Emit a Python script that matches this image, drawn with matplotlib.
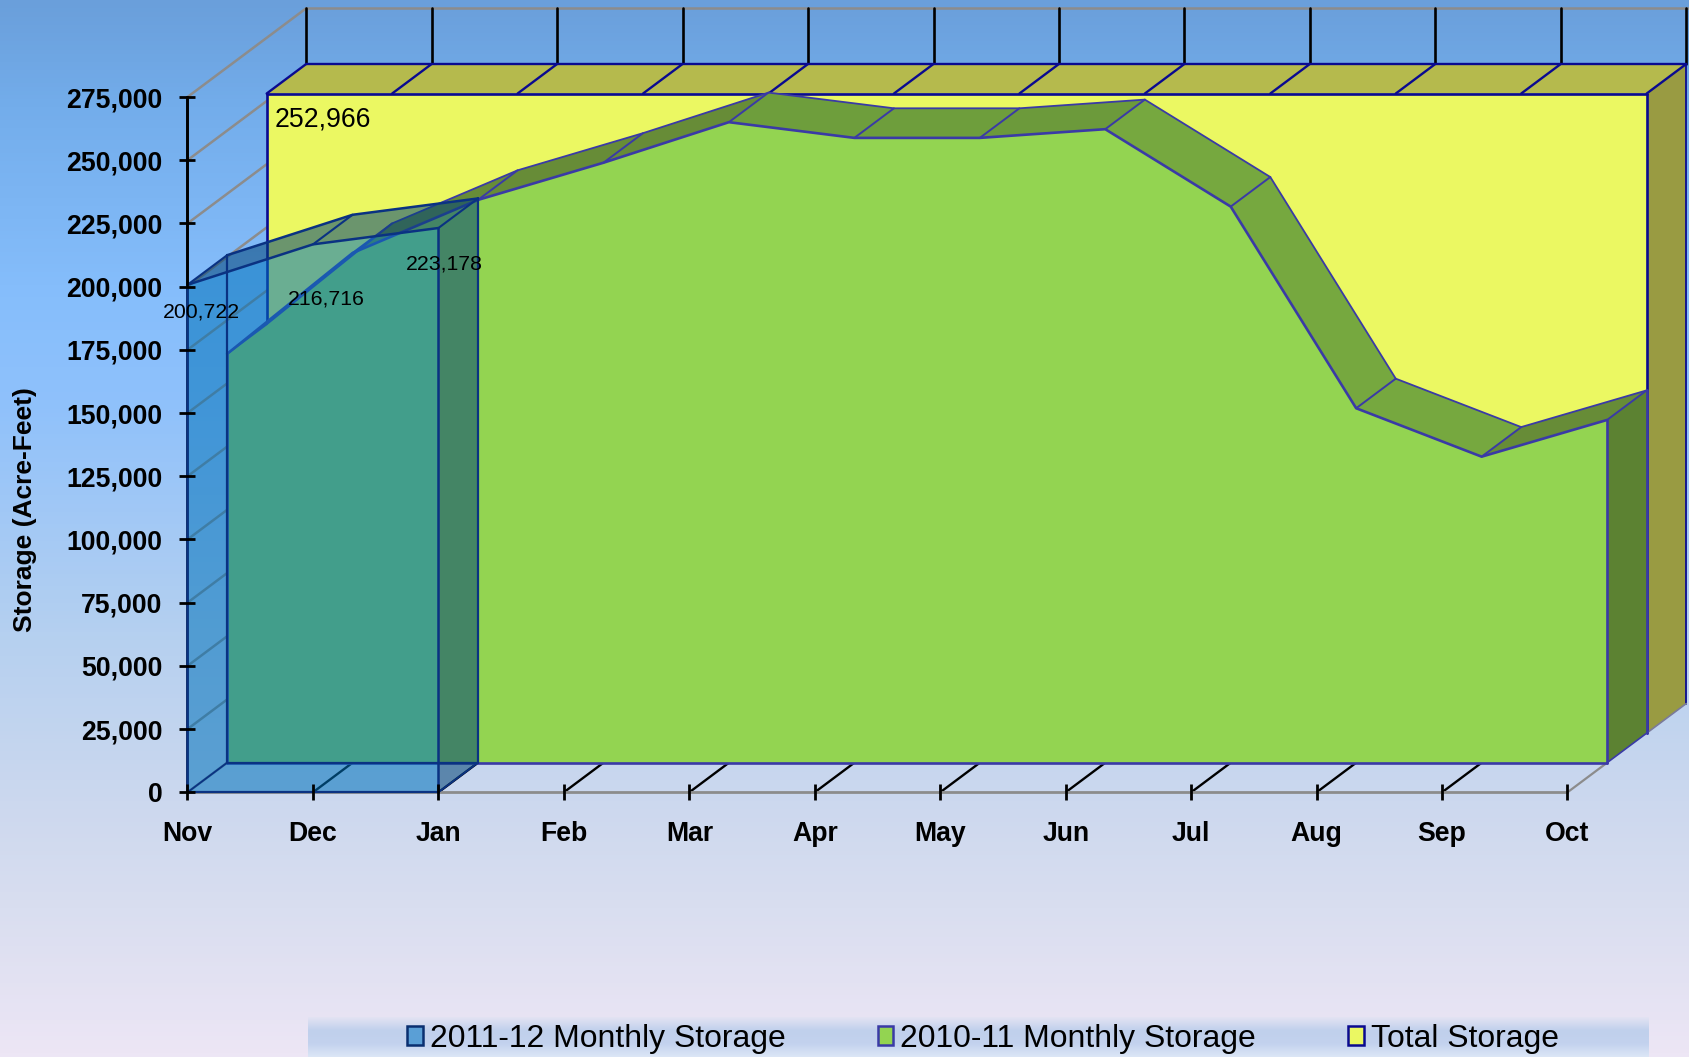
import matplotlib
matplotlib.use('Agg')
import matplotlib.pyplot as plt
import numpy as np
from matplotlib.colors import LinearSegmentedColormap
from matplotlib.patches import Patch

plt.rcParams['font.family'] = ['Liberation Sans', 'DejaVu Sans']

# data
months = ['Nov', 'Dec', 'Jan', 'Feb', 'Mar', 'Apr', 'May', 'Jun', 'Jul', 'Aug', 'Sep', 'Oct']
storage_2011 = [200722, 216716, 223178]
storage_2010 = [161700, 201600, 222600, 237300, 253340, 247130, 247130, 250570, 219950, 140200, 121050, 135570]
total_storage = [252966] * 12
yticks = list(range(0, 275001, 25000))

# one step of depth, in data units
DX = 0.3155
DY = 11700

W, H = 1690, 1057
fig = plt.figure(figsize=(W / 100, H / 100), dpi=100)

# page background
bg = fig.add_axes([0, 0, 1, 1], zorder=0)
bg_cmap = LinearSegmentedColormap.from_list('page', [
    (0.0, '#6A9FDB'), (0.1, '#73ADEB'), (0.28, '#86BEFC'), (0.38, '#8FC1FB'),
    (0.6, '#B5D0F0'), (0.76, '#CCD8EE'), (0.86, '#D9DEF0'), (1.0, '#EDE6F5')])
bg.imshow(np.linspace(0, 1, 256).reshape(-1, 1), cmap=bg_cmap, aspect='auto', extent=[0, 1, 0, 1])
bg.axis('off')

# legend band
band = fig.add_axes([308 / W, 0, (1649 - 308) / W, 40 / H], zorder=1)
band_cmap = LinearSegmentedColormap.from_list('band', ['#E3E3F3', '#C0D0EC', '#C3D2EE', '#DCE6F6'])
band.imshow(np.linspace(0, 1, 64).reshape(-1, 1), cmap=band_cmap, aspect='auto')
band.axis('off')

ax = fig.add_axes([187.5 / W, 1 - 792.3 / H, (1567.5 - 187.5) / W, (792.3 - 97) / H], zorder=2)
ax.patch.set_visible(False)
ax.set_xlim(0, 11)
ax.set_ylim(0, 275000)

x = np.arange(12)
total = np.array(total_storage, dtype=float)
green = np.array(storage_2010, dtype=float)
blue = np.array(storage_2011, dtype=float)
xb = x[:len(blue)]

GRID = '#8C8C8C'
NAVY = '#0A0A90'
PURPLE = '#3A3AA6'
BLUE_EDGE = '#0A3282'
BLUE_FILL = (0, 114 / 255, 187 / 255)
BLUE_DARK = (3 / 255, 68 / 255, 119 / 255)


def line(xs, ys, color, lw=1.5, z=1.0, **kw):
    ax.plot(xs, ys, color=color, lw=lw, zorder=z, clip_on=False, solid_capstyle='round', **kw)


def poly(xs, ys, color, z=1.0, **kw):
    ax.fill(xs, ys, color=color, lw=0, zorder=z, clip_on=False, **kw)


# walls and floor
for v in yticks:
    line([0, 3 * DX], [v, v + 3 * DY], GRID, 1.8, 0.5)
line([3 * DX, 11.1 + 3 * DX], [275000 + 3 * DY] * 2, GRID, 1.8, 0.5)
for k in x:
    line([k + 3 * DX] * 2, [total[k] + 3 * DY, 275000 + 3 * DY], 'black', 1.9, 0.5)
    if 0 < k < 11:
        line([k, k + DX], [0, DY], 'black', 1.7, 0.5)
line([11, 11 + DX], [0, DY], GRID, 1.6, 0.5)

# total storage block
y2 = total + 2 * DY
y3 = total + 3 * DY
poly([x[0] + 2 * DX, x[-1] + 2 * DX, x[-1] + 3 * DX, x[0] + 3 * DX], [y2[0], y2[-1], y3[-1], y3[0]], '#B5BA4D', 1.0)
poly([x[-1] + 2 * DX, x[-1] + 3 * DX, x[-1] + 3 * DX, x[-1] + 2 * DX], [y2[-1], y3[-1], 3 * DY, 2 * DY], '#999B42', 1.0)
ax.fill_between(x + 2 * DX, 2 * DY, y2, color='#EBF862', lw=0, zorder=1.0, clip_on=False)
line(x + 2 * DX, y2, NAVY, 1.9, 1.1)
line(x + 3 * DX, y3, NAVY, 1.7, 1.1)
for k in x:
    line([k + 2 * DX, k + 3 * DX], [y2[k], y3[k]], NAVY, 1.7, 1.1)
line([x[0] + 2 * DX] * 2, [2 * DY, y2[0]], NAVY, 1.9, 1.1)
line([x[-1] + 2 * DX] * 2, [2 * DY, y2[-1]], NAVY, 1.9, 1.1)
line([x[-1] + 3 * DX] * 2, [3 * DY, y3[-1]], NAVY, 1.3, 1.1)
line([x[-1] + 2 * DX, x[-1] + 3 * DX], [2 * DY, 3 * DY], '#7A7A9A', 1.2, 1.1)

# 2010-11 block
g1 = green + DY
g2 = green + 2 * DY
shades = ['#678C37', '#678C37', '#678C37', '#678C37', '#6E9E3C', '#6E9E3C', '#6C9A3B',
          '#76A83F', '#76A83F', '#76A83F', '#678C37']
for k in range(11):
    poly([x[k] + DX, x[k + 1] + DX, x[k + 1] + 2 * DX, x[k] + 2 * DX], [g1[k], g1[k + 1], g2[k + 1], g2[k]], shades[k], 1.2)
poly([x[-1] + DX, x[-1] + 2 * DX, x[-1] + 2 * DX, x[-1] + DX], [g1[-1], g2[-1], 2 * DY, DY], '#5C8232', 1.2)
ax.fill_between(x + DX, DY, g1, color='#93D451', lw=0, zorder=1.3, clip_on=False)
line(x + DX, g1, PURPLE, 1.9, 1.4)
line(x + 2 * DX, g2, PURPLE, 1.3, 1.4)
for k in x:
    line([k + DX, k + 2 * DX], [g1[k], g2[k]], PURPLE, 1.4, 1.4)
line([x[0] + DX, x[-1] + DX], [DY, DY], PURPLE, 1.9, 1.4)
line([x[0] + DX] * 2, [DY, g1[0]], PURPLE, 1.9, 1.4)
line([x[-1] + DX] * 2, [DY, g1[-1]], PURPLE, 1.9, 1.4)
line([x[-1] + 2 * DX] * 2, [2 * DY, g2[-1]], PURPLE, 1.9, 1.4)
line([x[-1] + DX, x[-1] + 2 * DX], [DY, 2 * DY], PURPLE, 1.2, 1.4)

# 2011-12 block, see-through
b1 = blue + DY
ax.fill_between(xb, 0, blue, color=BLUE_FILL, alpha=0.55, lw=0, zorder=1.6, clip_on=False)
for k in range(len(blue) - 1):
    poly([xb[k], xb[k + 1], xb[k + 1] + DX, xb[k] + DX], [blue[k], blue[k + 1], b1[k + 1], b1[k]], BLUE_DARK, 1.7, alpha=0.55)
poly([xb[-1], xb[-1] + DX, xb[-1] + DX, xb[-1]], [blue[-1], b1[-1], DY, 0], BLUE_DARK, 1.7, alpha=0.55)
line(xb, blue, BLUE_EDGE, 1.8, 1.8)
line(xb + DX, b1, BLUE_EDGE, 1.8, 1.8)
for k in xb:
    line([k, k + DX], [blue[k], b1[k]], BLUE_EDGE, 1.5, 1.8)
line([xb[0]] * 2, [0, blue[0]], BLUE_EDGE, 1.8, 1.8)
line([xb[-1]] * 2, [0, blue[-1]], BLUE_EDGE, 1.8, 1.8)
line([xb[0] + DX] * 2, [DY, b1[0]], BLUE_EDGE, 1.6, 1.8)
line([xb[-1] + DX] * 2, [DY, b1[-1]], BLUE_EDGE, 1.6, 1.8)
line([xb[0], xb[-1]], [0, 0], BLUE_EDGE, 1.6, 1.8)
line([xb[0] + DX, xb[-1] + DX], [DY, DY], BLUE_EDGE, 1.6, 1.8)
line([xb[0], xb[0] + DX], [0, DY], BLUE_EDGE, 1.3, 1.8)
line([xb[-1], xb[-1] + DX], [0, DY], BLUE_EDGE, 1.3, 1.8)

# data labels
offsets = [(9.7, -19.5), (9.7, -39.5), (4.3, -25.8)]
for i, v in enumerate(storage_2011):
    ax.annotate(f'{v:,}', xy=(i, v), xytext=offsets[i], textcoords='offset points',
                ha='center', va='center', fontsize=15.3, zorder=5, annotation_clip=False)
ax.annotate(f'{total_storage[0]:,}', xy=(2 * DX, y2[0]), xytext=(40.5, -19), textcoords='offset points',
            ha='center', va='center', fontsize=19.2, zorder=5, annotation_clip=False)

# axes
ax.set_xticks(x)
ax.set_xticklabels(months, fontsize=19.2, fontweight='bold')
ax.set_yticks(yticks)
ax.set_yticklabels([f'{v:,}' for v in yticks], fontsize=19.2, fontweight='bold')
ax.tick_params(axis='both', direction='inout', length=11, width=2, color='black')
ax.tick_params(axis='x', pad=15.5)
ax.tick_params(axis='y', pad=12.5)
ax.set_axisbelow(False)
for s in ['top', 'right']:
    ax.spines[s].set_visible(False)
ax.spines['left'].set_linewidth(1.8)
ax.spines['bottom'].set_linewidth(2)
ax.spines['bottom'].set_color(GRID)
ax.spines['left'].set_zorder(1.5)
ax.spines['bottom'].set_zorder(0.6)
line([0, 0], [200722, 275000], 'black', 2.0, 1.9)

ax.set_ylabel('Storage (Acre-Feet)', fontsize=19, fontweight='bold', va='center')
ax.yaxis.set_label_coords(25.5 / W, 1 - 510 / H, transform=fig.transFigure)

handles = [Patch(facecolor='#5A9FD6', edgecolor='#0A2F70', lw=1.8),
           Patch(facecolor='#93D451', edgecolor=PURPLE, lw=1.8),
           Patch(facecolor='#EBF862', edgecolor=NAVY, lw=1.8)]
leg_labels = ['2011-12 Monthly Storage', '2010-11 Monthly Storage', 'Total Storage']
fig.legend(handles, leg_labels, loc='center', bbox_to_anchor=(983 / W, 1 - 1039 / H), ncol=3, frameon=False,
           fontsize=22.95, handlelength=0.48, handleheight=0.55, handletextpad=0.22, columnspacing=2.9,
           borderpad=0, borderaxespad=0)

fig.savefig('out.png', dpi=100)
